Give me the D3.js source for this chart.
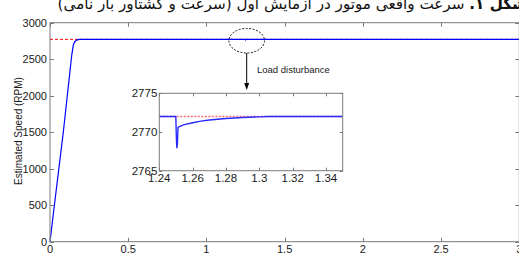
<!DOCTYPE html>
<html><head><meta charset="utf-8">
<script src="https://cdn.jsdelivr.net/npm/d3@7"></script>
<style>body{margin:0;background:#fff;}svg{display:block;}</style>
</head><body>
<script>
// ---- data ----
const mainTime  = [0, 0.028, 0.085, 0.139, 0.149, 0.158, 0.17, 0.18, 0.19, 0.2, 1.25, 1.2505, 1.2512, 1.27, 1.3, 3];
const mainSpeed = [0, 500, 1500, 2557, 2694, 2740, 2762, 2769, 2771.5, 2772, 2772, 2767.9, 2770.6, 2771.55, 2771.95, 2772];
const refSpeed = 2772;
const insetTime  = [1.24, 1.2499, 1.2502, 1.2505, 1.2509, 1.2512, 1.252, 1.255, 1.26, 1.265, 1.27, 1.28, 1.29, 1.3, 1.305, 1.35];
const insetSpeed = [2772, 2772, 2769.5, 2767.9, 2768.6, 2770.6, 2770.7, 2770.95, 2771.2, 2771.4, 2771.55, 2771.75, 2771.88, 2771.96, 2772, 2772];
const xTicks = [0, 0.5, 1, 1.5, 2, 2.5, 3];
const yTicks = [0, 500, 1000, 1500, 2000, 2500, 3000];
const insetXTicks = [1.24, 1.26, 1.28, 1.3, 1.32, 1.34];
const insetYTicks = [2765, 2770, 2775];
const titleBold = "شکل ۱.";
const titleRest = " سرعت واقعی موتور در آزمایش اول (سرعت و گشتاور بار نامی)";
const yLabel = "Estimated Speed (RPM)";
const xLabel = "Time (s)";
const annotation = "Load disturbance";

const W = 519, H = 256;
const svg = d3.select("body").append("svg").attr("width", W).attr("height", H);
const axisColor = "#7a7a7a", textColor = "#1a1a1a", font = "Liberation Sans, Arial, sans-serif";

// title (RTL, cut at top/right)
const title = svg.append("text").attr("x", 527).attr("y", 9)
  .attr("direction", "rtl").style("unicode-bidi", "embed")
  .attr("text-anchor", "start")
  .attr("font-family", "DejaVu Sans, sans-serif").attr("font-size", 15.2).attr("fill", "#111");
title.append("tspan").attr("font-weight", "bold").text(titleBold);
title.append("tspan").text(titleRest);

// ---- main axes ----
const x = d3.scaleLinear().domain([0, 3]).range([50, 519.3]);
const y = d3.scaleLinear().domain([0, 3000]).range([241.7, 22.7]);

function frame(g, xs, ys, xt, yt, xfmt, yfmt, tickLen, fs, xLabOff, yLabOff) {
  const [x0, x1] = xs.range(), [y0, y1] = ys.range();
  g.append("rect").attr("x", x0).attr("y", y1).attr("width", x1 - x0).attr("height", y0 - y1)
    .attr("fill", "none").attr("stroke", axisColor).attr("stroke-width", 1);
  xt.forEach(v => {
    const px = Math.round(xs(v)) + 0.5;
    g.append("line").attr("x1", px).attr("x2", px).attr("y1", y0).attr("y2", y0 - tickLen).attr("stroke", axisColor);
    g.append("line").attr("x1", px).attr("x2", px).attr("y1", y1).attr("y2", y1 + tickLen).attr("stroke", axisColor);
    g.append("text").attr("x", xs(v)).attr("y", y0 + xLabOff).attr("text-anchor", "middle")
      .attr("font-family", font).attr("font-size", fs).attr("fill", textColor).text(xfmt(v));
  });
  yt.forEach(v => {
    const py = Math.round(ys(v)) + 0.5;
    g.append("line").attr("x1", x0).attr("x2", x0 + tickLen).attr("y1", py).attr("y2", py).attr("stroke", axisColor);
    g.append("line").attr("x1", x1).attr("x2", x1 - tickLen).attr("y1", py).attr("y2", py).attr("stroke", axisColor);
    g.append("text").attr("x", x0 - yLabOff).attr("y", ys(v) + 4).attr("text-anchor", "end")
      .attr("font-family", font).attr("font-size", fs).attr("fill", textColor).text(yfmt(v));
  });
}

const gMain = svg.append("g");
// reference (red dashed) under the estimated speed
gMain.append("line").attr("x1", x(0)).attr("x2", x(3)).attr("y1", y(refSpeed)).attr("y2", y(refSpeed))
  .attr("stroke", "#ff0000").attr("stroke-width", 1).attr("stroke-dasharray", "3,2");
const line = d3.line().x((d, i) => x(mainTime[i])).y(d => y(d));
gMain.append("path").attr("d", line(mainSpeed)).attr("fill", "none").attr("stroke", "#0000ff").attr("stroke-width", 1.2);
frame(gMain, x, y, xTicks, yTicks, d3.format(""), d3.format(""), 4, 11, 11, 3);

// axis labels
svg.append("text").attr("transform", "translate(22,131) rotate(-90)").attr("text-anchor", "middle")
  .attr("font-family", font).attr("font-size", 10).attr("fill", textColor).text(yLabel);
svg.append("text").attr("x", 284).attr("y", 264).attr("text-anchor", "middle")
  .attr("font-family", font).attr("font-size", 11).attr("fill", textColor).text(xLabel);

// annotation
svg.append("ellipse").attr("cx", 246.7).attr("cy", 40.7).attr("rx", 17.8).attr("ry", 12.3)
  .attr("fill", "none").attr("stroke", "#000").attr("stroke-width", 0.9).attr("stroke-dasharray", "2,1.5");
svg.append("line").attr("x1", 246.7).attr("x2", 246.7).attr("y1", 53).attr("y2", 85)
  .attr("stroke", "#000").attr("stroke-width", 1);
svg.append("path").attr("d", "M244.2,83 L249.2,83 L246.7,90 Z").attr("fill", "#000");
svg.append("text").attr("x", 257).attr("y", 72.5).attr("font-family", font).attr("font-size", 9.5)
  .attr("fill", textColor).text(annotation);

// ---- inset ----
const xi = d3.scaleLinear().domain([1.24, 1.35]).range([159.3, 342.7]);
const yi = d3.scaleLinear().domain([2765, 2775]).range([170.7, 93.3]);
const gIn = svg.append("g");
gIn.append("rect").attr("x", 159.3).attr("y", 93.3).attr("width", 342.7 - 159.3).attr("height", 170.7 - 93.3).attr("fill", "#fff");
svg.append("clipPath").attr("id", "clipIn").append("rect")
  .attr("x", 159.3).attr("y", 93.3).attr("width", 342.7 - 159.3).attr("height", 170.7 - 93.3);
const gInData = gIn.append("g").attr("clip-path", "url(#clipIn)");
gInData.append("line").attr("x1", xi(1.24)).attr("x2", xi(1.35)).attr("y1", yi(refSpeed)).attr("y2", yi(refSpeed))
  .attr("stroke", "#ff6a6a").attr("stroke-width", 1.6).attr("stroke-dasharray", "2,1.5");
const lineIn = d3.line().x((d, i) => xi(insetTime[i])).y(d => yi(d));
gInData.append("path").attr("d", lineIn(insetSpeed)).attr("fill", "none").attr("stroke", "#2a2aff").attr("stroke-width", 1.4);
frame(gIn, xi, yi, insetXTicks, insetYTicks, d => d3.format("")(+d.toFixed(2)), d3.format(""), 3, 11.5, 11, 2);
</script>
</body></html>
